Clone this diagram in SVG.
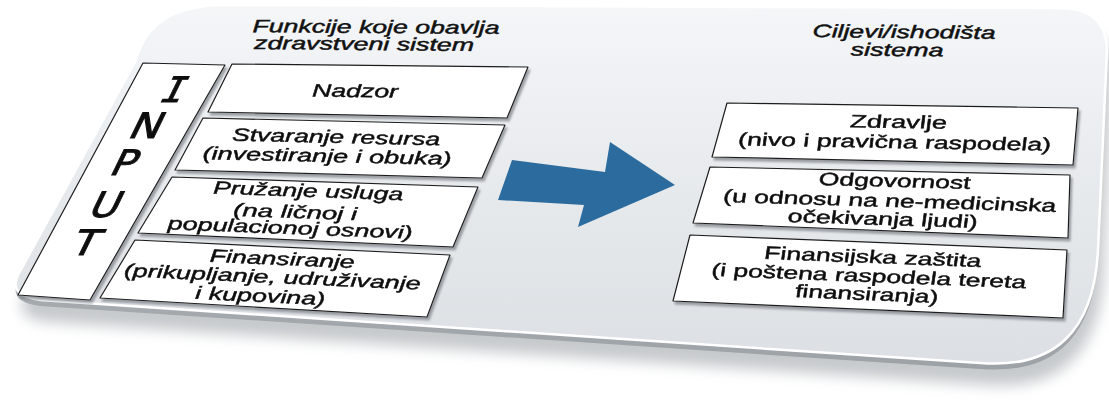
<svg xmlns="http://www.w3.org/2000/svg" xmlns:xlink="http://www.w3.org/1999/xlink" width="1109" height="404" viewBox="0 0 1109 404">
<style>
.box{fill:#ffffff;stroke:#1e1e1e;stroke-width:1.2;stroke-linejoin:round}
.t{font-family:"Liberation Sans",Arial,sans-serif;font-size:18px;fill:#111;stroke:#111;stroke-width:0.45;text-anchor:middle}
.it{font-style:italic}
.big{font-family:"DejaVu Sans","Liberation Sans",sans-serif;font-size:35px;fill:#111;stroke:#111;stroke-width:0.9;text-anchor:middle}
.mono{font-family:"DejaVu Sans Mono",monospace}
</style>
<defs>
<path id="cardShape" d="M 136,60 Q 150,6 222,5 L 1060,8 Q 1106,8 1107,50 L 1098,250 Q 1092,372 980,363 L 40,300 Q 8,296 18,275 Z"/>
<linearGradient id="cardFill" x1="0" y1="0" x2="0" y2="1">
<stop offset="0" stop-color="#f4f6f8"/>
<stop offset="0.55" stop-color="#e6e9ec"/>
<stop offset="1" stop-color="#dcdfe3"/>
</linearGradient>
<linearGradient id="rimFill" x1="0" y1="0" x2="0" y2="1">
<stop offset="0" stop-color="#c9cdd1"/>
<stop offset="1" stop-color="#9da2a7"/>
</linearGradient>
<filter id="soft" x="-10%" y="-20%" width="120%" height="150%">
<feGaussianBlur stdDeviation="7"/>
</filter>
<filter id="boxShadow" x="-10%" y="-20%" width="130%" height="150%">
<feDropShadow dx="2" dy="3" stdDeviation="1.2" flood-color="#7a7f85" flood-opacity="0.7"/>
</filter>
</defs>
<rect width="1109" height="404" fill="#ffffff"/>
<g id="card">
<use xlink:href="#cardShape" transform="translate(6,22)" fill="#8e949a" opacity="0.5" filter="url(#soft)"/>
<use xlink:href="#cardShape" transform="translate(0,6)" fill="url(#rimFill)"/>
<use xlink:href="#cardShape" fill="url(#cardFill)" stroke="#ffffff" stroke-width="2.5"/>
</g>
<g id="title-functions">
<text class="t it" transform="translate(376,33) rotate(0.4)" textLength="247" lengthAdjust="spacingAndGlyphs">Funkcije koje obavlja</text>
<text class="t it" transform="translate(364,50) rotate(0.5)" textLength="220" lengthAdjust="spacingAndGlyphs">zdravstveni sistem</text>
</g>
<g id="title-goals">
<text class="t it" transform="translate(904,38) rotate(0.6)" textLength="183" lengthAdjust="spacingAndGlyphs">Ciljevi/ishodišta</text>
<text class="t it" transform="translate(897,56) rotate(0.6)" textLength="93" lengthAdjust="spacingAndGlyphs">sistema</text>
</g>
<g id="input" filter="url(#boxShadow)">
<polygon class="box" points="143,63 225,65 90,300 18,295"/>
<text class="big mono" transform="translate(169,102) skewX(-26) scale(1.1,1)">I</text>
<text class="big" transform="translate(142,138) skewX(-26) scale(1.2,1)">N</text>
<text class="big" transform="translate(120,175) skewX(-26) scale(1.15,1)">P</text>
<text class="big" transform="translate(101,217) skewX(-26) scale(1.15,1)">U</text>
<text class="big" transform="translate(81,255) skewX(-26) scale(1.2,1)">T</text>
</g>
<g id="nadzor" filter="url(#boxShadow)">
<polygon class="box" points="232,64 528,67 507,118 208,112"/>
<text class="t it" transform="translate(355,97) rotate(0.8)" textLength="86" lengthAdjust="spacingAndGlyphs">Nadzor</text>
</g>
<g id="stvaranje-resursa" filter="url(#boxShadow)">
<polygon class="box" points="203,118 505,125 482,178 175,170"/>
<text class="t it" transform="translate(336,143) rotate(1.3)" textLength="208" lengthAdjust="spacingAndGlyphs">Stvaranje resursa</text>
<text class="t it" transform="translate(327,162) rotate(1.3)" textLength="249" lengthAdjust="spacingAndGlyphs">(investiranje i obuka)</text>
</g>
<g id="pruzanje-usluga" filter="url(#boxShadow)">
<polygon class="box" points="172,177 478,187 453,247 138,233"/>
<text class="t it" transform="translate(308,197) rotate(2)" textLength="190" lengthAdjust="spacingAndGlyphs">Pružanje usluga</text>
<text class="t it" transform="translate(295,218) rotate(2)" textLength="124" lengthAdjust="spacingAndGlyphs">(na ličnoj i</text>
<text class="t it" transform="translate(290,234) rotate(2.2)" textLength="245" lengthAdjust="spacingAndGlyphs">populacionoj osnovi)</text>
</g>
<g id="finansiranje" filter="url(#boxShadow)">
<polygon class="box" points="135,240 450,255 427,317 100,298"/>
<text class="t it" transform="translate(282,265) rotate(2.6)" textLength="145" lengthAdjust="spacingAndGlyphs">Finansiranje</text>
<text class="t it" transform="translate(272,283) rotate(2.6)" textLength="297" lengthAdjust="spacingAndGlyphs">(prikupljanje, udruživanje</text>
<text class="t it" transform="translate(260,302) rotate(2.8)" textLength="130" lengthAdjust="spacingAndGlyphs">i kupovina)</text>
</g>
<g id="connectors">
<polygon points="512,160 605,172 610,142 675,185 578,227 584,205 498,200" fill="#2b6b9d"/>
</g>
<g id="zdravlje" filter="url(#boxShadow)">
<polygon class="box" points="727,103 1078,108 1073,165 712,157"/>
<text class="t" transform="translate(898,128) rotate(1) skewX(-6)" textLength="97" lengthAdjust="spacingAndGlyphs">Zdravlje</text>
<text class="t" transform="translate(894,148) rotate(1) skewX(-6)" textLength="313" lengthAdjust="spacingAndGlyphs">(nivo i pravična raspodela)</text>
</g>
<g id="odgovornost" filter="url(#boxShadow)">
<polygon class="box" points="710,167 1070,175 1068,238 693,223"/>
<text class="t" transform="translate(894,187) rotate(1.5) skewX(-6)" textLength="152" lengthAdjust="spacingAndGlyphs">Odgovornost</text>
<text class="t" transform="translate(889,207) rotate(1.7) skewX(-6)" textLength="333" lengthAdjust="spacingAndGlyphs">(u odnosu na ne-medicinska</text>
<text class="t" transform="translate(882,225) rotate(1.8) skewX(-6)" textLength="190" lengthAdjust="spacingAndGlyphs">očekivanja ljudi)</text>
</g>
<g id="finansijska-zastita" filter="url(#boxShadow)">
<polygon class="box" points="690,235 1067,250 1063,318 673,301"/>
<text class="t" transform="translate(872,263) rotate(2.2) skewX(-6)" textLength="217" lengthAdjust="spacingAndGlyphs">Finansijska zaštita</text>
<text class="t" transform="translate(868,282) rotate(2.3) skewX(-6)" textLength="315" lengthAdjust="spacingAndGlyphs">(i poštena raspodela tereta</text>
<text class="t" transform="translate(866,300) rotate(2.4) skewX(-6)" textLength="143" lengthAdjust="spacingAndGlyphs">finansiranja)</text>
</g>
</svg>
